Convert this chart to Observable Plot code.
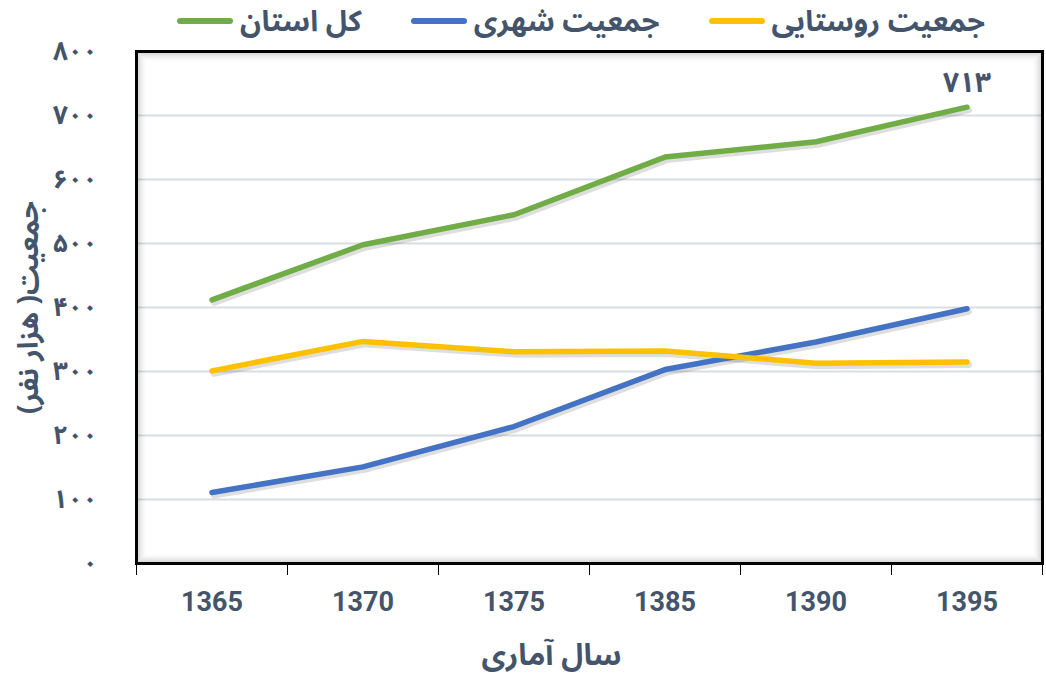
<!DOCTYPE html>
<html>
<head>
<meta charset="utf-8">
<script src="https://cdn.jsdelivr.net/npm/d3@7"></script>
<script src="https://cdn.jsdelivr.net/npm/@observablehq/plot@0.6"></script>
<style>
  html, body { margin: 0; padding: 0; background: #fff; }
  #wrap { position: relative; width: 1046px; height: 684px; }
  #legend { display: flex; justify-content: flex-end; align-items: center; height: 44px; width: 1046px;
            box-sizing: border-box; padding-right: 55px; gap: 43px; }
  .item { display: flex; align-items: center; gap: 1px;
          font-family: "Noto Sans Arabic", "Noto Naskh Arabic", "DejaVu Sans", sans-serif; font-weight: bold;
          font-size: 29px; color: #44546A; white-space: nowrap; }
  .item span { display: inline-block; padding: 4px 6px; line-height: 36px; }
  .sw { width: 56px; height: 6px; border-radius: 3px; margin-bottom: 2px; }
  svg { overflow: visible; }
</style>
</head>
<body>
<div id="wrap">
  <div id="legend"></div>
  <div id="chart"></div>
</div>
<script>
const years = ["1365", "1370", "1375", "1385", "1390", "1395"];
const seriesNames = ["کل استان", "جمعیت شهری", "جمعیت روستایی"];
const seriesColors = ["#70AD47", "#4472C4", "#FFC000"];
const totalPop = [412, 498, 545, 635, 659, 713];
const urbanPop = [111, 151, 214, 303, 346, 398];
const ruralPop = [301, 347, 331, 332, 313, 315];
const yTicks = [0, 100, 200, 300, 400, 500, 600, 700, 800];
const xLabel = "سال آماری";
const yLabel = "جمعیت( هزار نفر)\u200F";
const textColor = "#44546A";

const fa = (v) => String(v).replace(/\d/g, (d) => "۰۱۲۳۴۵۶۷۸۹"[d]);

const seriesValues = [totalPop, urbanPop, ruralPop];
const rows = [];
seriesNames.forEach((name, s) => {
  years.forEach((yr, i) => rows.push({series: name, i, year: yr, value: seriesValues[s][i]}));
});
const lastTotal = [{i: years.length - 1, value: totalPop[totalPop.length - 1]}];
const idx = years.map((_, i) => i);
const bounds = years.map((_, i) => i - 0.5).concat([years.length - 0.5]);

// legend (HTML, above svg); visual order left-to-right: total, urban, rural
const legend = document.getElementById("legend");
[0, 1, 2].forEach((s) => {
  const it = document.createElement("div");
  it.className = "item";
  const sw = document.createElement("div");
  sw.className = "sw";
  sw.style.background = seriesColors[s];
  const tx = document.createElement("span");
  tx.setAttribute("dir", "rtl");
  tx.textContent = seriesNames[s];
  it.appendChild(sw);
  it.appendChild(tx);
  legend.appendChild(it);
});

const arabicFont = "'Noto Sans Arabic', 'Noto Naskh Arabic', 'DejaVu Sans', sans-serif";
const shadowMarks = d3.range(1, 11).map((k) =>
  Plot.frame({inset: k, stroke: "#000", strokeWidth: 1.2, strokeOpacity: 0.16 * Math.pow(1 - k / 11, 1.6)})
);

const chart = Plot.plot({
  width: 1046,
  height: 640,
  marginLeft: 136,
  marginRight: 4,
  marginTop: 7,
  marginBottom: 121,
  style: {background: "transparent", overflow: "visible"},
  x: {type: "linear", domain: [-0.5, years.length - 0.5]},
  y: {domain: [0, 800]},
  color: {domain: seriesNames, range: seriesColors},
  marks: [
    Plot.ruleY(yTicks.filter((t) => t > 0 && t < 800), {stroke: "#D9DEE6", strokeWidth: 2}),
    ...shadowMarks,
    Plot.frame({stroke: "#000", strokeWidth: 3}),
    Plot.axisY({ticks: yTicks, tickSize: 0, tickPadding: 39, tickFormat: fa, fontSize: 26, fontWeight: "bold",
                fontFamily: arabicFont, fill: textColor, label: null}),
    Plot.axisX({ticks: bounds, tickSize: 12, tickFormat: () => "", stroke: "#000", strokeWidth: 1, label: null}),
    Plot.axisX({ticks: idx, tickSize: 0, tickPadding: 28, tickFormat: (i) => years[i], fontSize: 27, fontWeight: "bold",
                fontFamily: "'Liberation Sans Narrow', 'Arial Narrow', Roboto, sans-serif", fill: textColor, label: null}),
    Plot.line(rows, {x: "i", y: "value", z: "series", stroke: "#000", strokeOpacity: 0.13, strokeWidth: 6, dx: 2, dy: 3, strokeLinecap: "round", strokeLinejoin: "round"}),
    Plot.line(rows, {x: "i", y: "value", z: "series", stroke: "series", strokeWidth: 5.5, strokeLinecap: "round", strokeLinejoin: "round"}),
    Plot.text(lastTotal, {x: "i", y: "value", text: (d) => fa(d.value), dy: -24, fontSize: 28, fontWeight: "bold",
                          fontFamily: arabicFont, fill: textColor}),
    Plot.text([xLabel], {frameAnchor: "bottom", dx: -38, dy: 101, fontSize: 30, fontWeight: "bold", fontFamily: arabicFont, fill: textColor}),
    Plot.text([yLabel], {frameAnchor: "left", textAnchor: "middle", rotate: -90, dx: -107, fontSize: 28, fontWeight: "bold", fontFamily: arabicFont, fill: textColor})
  ]
});
document.getElementById("chart").appendChild(chart);
</script>
</body>
</html>
